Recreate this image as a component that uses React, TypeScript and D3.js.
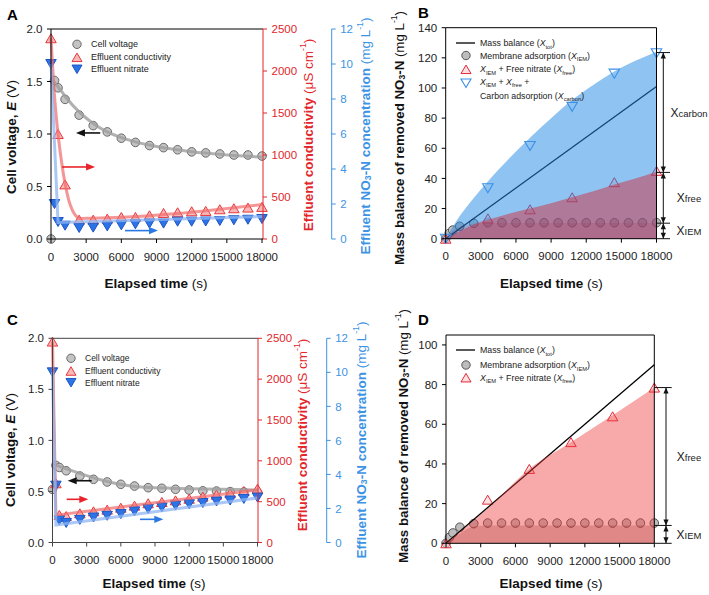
import React from 'react';
import * as d3 from 'd3';

const FONT = '"Liberation Sans", Arial, Helvetica, sans-serif';

// ---------- shared ticks ----------
const timeTicks = [0, 3000, 6000, 9000, 12000, 15000, 18000];
const voltageTicks = [0, 0.5, 1.0, 1.5, 2.0];
const conductivityTicks = [0, 500, 1000, 1500, 2000, 2500];
const nitrateTicks = [0, 2, 4, 6, 8, 10, 12];
const massTicksB = [0, 20, 40, 60, 80, 100, 120, 140];
const massTicksD = [0, 20, 40, 60, 80, 100];

// ---------- Panel A ----------
const timeA = [0, 300, 600, 1200, 2400, 3600, 4800, 6000, 7200, 8400, 9600, 10800, 12000, 13200, 14400, 15600, 16800, 18000];
const voltageA = [0, 1.51, 1.44, 1.33, 1.18, 1.08, 1.02, 0.96, 0.92, 0.89, 0.87, 0.85, 0.83, 0.82, 0.81, 0.80, 0.80, 0.79];
const condTimeA = [0, 600, 1200, 2400, 3600, 4800, 6000, 7200, 8400, 9600, 10800, 12000, 13200, 14400, 15600, 16800, 18000];
const conductivityA = [2390, 1250, 650, 230, 230, 242, 262, 262, 282, 310, 318, 330, 334, 354, 366, 374, 382];
const nitrateA = [10.0, 2.0, 0.97, 0.76, 0.63, 0.65, 0.72, 0.78, 0.84, 0.88, 0.88, 0.99, 0.99, 1.0, 1.03, 1.07, 1.1, 1.14];
const voltFitTimeA = [0, 600, 1200, 2400, 3600, 4800, 6000, 7200, 8400, 9600, 10800, 12000, 13200, 14400, 15600, 16800, 18000];
const voltFitA = [1.53, 1.45, 1.36, 1.21, 1.10, 1.02, 0.965, 0.925, 0.895, 0.87, 0.85, 0.832, 0.818, 0.806, 0.796, 0.787, 0.78];
const condFitTimeA = [0, 300, 600, 900, 1200, 1500, 1800, 2100, 2400, 18000];
const condFitA = [2390, 1700, 1250, 920, 660, 470, 350, 280, 245, 410];
const nitrFitTimeA = [0, 600, 18000];
const nitrFitA = [10.0, 0.95, 1.28];

// ---------- Panel C ----------
const timeC = [0, 300, 600, 1200, 2400, 3600, 4800, 6000, 7200, 8400, 9600, 10800, 12000, 13200, 14400, 15600, 16800, 18000];
const voltageC = [0.52, 0.755, 0.735, 0.703, 0.651, 0.619, 0.593, 0.570, 0.553, 0.537, 0.531, 0.521, 0.514, 0.506, 0.504, 0.498, 0.495, 0.492];
const conductivityC = [2460, 725, 337, 324, 357, 382, 402, 426, 451, 480, 496, 516, 536, 561, 585, 602, 630, 659];
const nitrateC = [10.0, 3.34, 1.3, 1.15, 1.33, 1.47, 1.57, 1.67, 1.83, 1.97, 2.06, 2.17, 2.25, 2.32, 2.41, 2.47, 2.56, 2.64];
const voltFitTimeC = [0, 8100, 18000];
const voltFitC = [0.77, 0.54, 0.515];
const condFitTimeC = [0, 300, 18000];
const condFitC = [2460, 335, 645];
const nitrFitTimeC = [0, 300, 18000];
const nitrFitC = [10.0, 1.03, 2.62];

// ---------- Panels B and D ----------
const iemTime = [0, 300, 600, 1200, 2400, 3600, 4800, 6000, 7200, 8400, 9600, 10800, 12000, 13200, 14400, 15600, 16800, 18000];
const sampleTime = [0, 3600, 7200, 10800, 14400, 18000];
const massTime = [0, 18000];

const iemB = [0, 3.5, 5.7, 8.2, 10.2, 10.6, 10.6, 10.6, 10.6, 10.6, 10.6, 10.6, 10.6, 10.6, 10.6, 10.6, 10.6, 10.6];
const freeB = [0, 13.5, 19.5, 27.5, 37.5, 45];
const carbonB = [0, 33.5, 61.5, 87.5, 109.5, 123];
const massB = [0, 101];
const fillTimeB = [0, 1200, 2400, 3600, 5400, 7200, 9000, 10800, 12600, 14400, 16200, 18000];
const carbonFillB = [0, 15, 27, 38, 53, 67, 80, 92, 102, 111, 118, 124];
const freeFillB = [0, 5, 9.5, 12.5, 16.5, 20, 23.5, 27.5, 31.5, 36, 40, 44.5];
const iemFillTimeB = [0, 300, 600, 1200, 2400, 3600, 18000];
const iemFillB = [0, 3, 5, 8, 10, 10.5, 10.5];
const bracketB = [123.5, 44, 10.3, 0];
const bracketLabelsB = ['carbon', 'free', 'IEM'];

const iemD = [0, 3.0, 5.2, 8.1, 9.9, 10.2, 10.2, 10.2, 10.2, 10.2, 10.2, 10.2, 10.2, 10.2, 10.2, 10.2, 10.2, 10.2];
const freeD = [0, 22, 37.5, 51, 64, 78.5];
const massD = [0, 90];
const fillTimeD = [0, 3600, 7200, 10800, 14400, 18000];
const freeFillD = [0, 17.5, 37.5, 51, 64.5, 78.5];
const iemFillTimeD = [0, 1200, 2400, 3600, 18000];
const iemFillD = [0, 5, 8.5, 9, 9];
const bracketD = [78.5, 9, 0];
const bracketLabelsD = ['free', 'IEM'];

// ---------- helpers ----------
type Pt = [number, number];
const zip = (xs: number[], ys: number[]): Pt[] => xs.map((x, i) => [x, ys[i]] as Pt);
const upTri = (w = 10.5, h = 9) => `M0,${-h / 2}L${w / 2},${h / 2}L${-w / 2},${h / 2}Z`;
const downTri = (w = 10.5, h = 9) => `M0,${h / 2}L${w / 2},${-h / 2}L${-w / 2},${-h / 2}Z`;

const RED = '#e2262b';
const BLUE_AX = '#3d93e4';

function Arrow({ x1, x2, y, color }: { x1: number; x2: number; y: number; color: string }) {
  const dir = Math.sign(x2 - x1);
  return (
    <g>
      <line x1={x1} x2={x2 - dir * 6} y1={y} y2={y} stroke={color} strokeWidth={1.6} />
      <path d={`M${x2},${y}L${x2 - dir * 9},${y - 3.6}L${x2 - dir * 9},${y + 3.6}Z`} fill={color} />
    </g>
  );
}

function Sub({ t, after }: { t: string; after?: string }) {
  return (
    <>
      <tspan fontSize="65%" dy={2.5}>{t}</tspan>
      <tspan dy={-2.5}>{after ?? ''}</tspan>
    </>
  );
}

function XTitle({ x, y }: { x: number; y: number }) {
  return (
    <text x={x} y={y} textAnchor="middle" fontSize={13.5} fontWeight="bold" fill="#111">
      Elapsed time<tspan fontWeight="normal"> (s)</tspan>
    </text>
  );
}

function BottomAxis({ x, yBot, xStart, xEnd, color }: any) {
  return (
    <g>
      <line x1={xStart} x2={xEnd} y1={yBot} y2={yBot} stroke={color} strokeWidth={1} />
      {timeTicks.map((t) => (
        <g key={t}>
          <line x1={x(t)} x2={x(t)} y1={yBot} y2={yBot + 4} stroke={color} />
          <text x={x(t)} y={yBot + 21.5} textAnchor="middle" fontSize={11.5} fill="#222">{t}</text>
        </g>
      ))}
    </g>
  );
}

function VAxis({ scale, ticks, xPos, side, color, fmt, textColor }: any) {
  const [r0, r1] = scale.range();
  const s = side === 'left' ? -1 : 1;
  return (
    <g>
      <line x1={xPos} x2={xPos} y1={r0} y2={r1} stroke={color} strokeWidth={1} />
      {ticks.map((t: number) => (
        <g key={t}>
          <line x1={xPos} x2={xPos + s * 4} y1={scale(t)} y2={scale(t)} stroke={color} />
          <text x={xPos + s * 8.5} y={scale(t)} dy="0.36em" textAnchor={side === 'left' ? 'end' : 'start'} fontSize={11.5} fill={textColor}>
            {fmt(t)}
          </text>
        </g>
      ))}
    </g>
  );
}

// ---------- time series panel (A, C) ----------
function PanelTS({ c }: { c: any }) {
  const x = d3.scaleLinear().domain([0, 18000]).range([c.x0, c.x1]);
  const yV = d3.scaleLinear().domain([0, 2]).range([c.yBot, c.yTop]);
  const yC = d3.scaleLinear().domain([0, 2500]).range([c.yBot, c.yTop]);
  const yN = d3.scaleLinear().domain([0, 12]).range([c.yBot, c.yTop]);
  const mk = (sy: any, curve: any) => d3.line<Pt>().x((d) => x(d[0])).y((d) => sy(d[1])).curve(curve);
  const f1 = d3.format('.1f');
  const L = c.legend;
  return (
    <g>
      {/* markers */}
      {zip(c.time, c.voltage).map((d, i) => (
        <circle key={'v' + i} cx={x(d[0])} cy={yV(d[1])} r={4.3} fill="#c3c3c3" stroke="#6a6a6a" strokeWidth={1} />
      ))}
      {zip(c.condTime, c.cond).map((d, i) => (
        <path key={'c' + i} d={upTri()} transform={`translate(${x(d[0])},${yC(d[1])})`} fill="#f8b8b8" stroke="#e8373c" strokeWidth={1} />
      ))}
      {zip(c.nitrTime, c.nitrate).map((d, i) => (
        <path key={'n' + i} d={downTri()} transform={`translate(${x(d[0])},${yN(d[1])})`} fill="#2c74e6" stroke="#1d55c4" strokeWidth={1} />
      ))}
      {/* fits */}
      <path d={mk(yV, d3.curveMonotoneX)(zip(c.voltFit[0], c.voltFit[1])) as string} fill="none" stroke="#9e9e9e" strokeWidth={3} strokeOpacity={0.8} />
      <path d={mk(yC, c.condCurve)(zip(c.condFit[0], c.condFit[1])) as string} fill="none" stroke="#f06a6a" strokeWidth={3} strokeOpacity={0.7} />
      <path d={mk(yN, d3.curveLinear)(zip(c.nitrFit[0], c.nitrFit[1])) as string} fill="none" stroke="#8db4f2" strokeWidth={3} strokeOpacity={0.75} />
      {/* arrows */}
      <Arrow x1={x(c.arrows.black[0])} x2={x(c.arrows.black[1])} y={yV(c.arrows.black[2])} color="#111" />
      <Arrow x1={x(c.arrows.red[0])} x2={x(c.arrows.red[1])} y={yV(c.arrows.red[2])} color="#e8232a" />
      <Arrow x1={x(c.arrows.blue[0])} x2={x(c.arrows.blue[1])} y={yV(c.arrows.blue[2])} color="#2a78e4" />
      {/* frame & axes */}
      <line x1={c.x0} x2={c.redX} y1={c.yTop} y2={c.yTop} stroke={c.frame} />
      <VAxis scale={yV} ticks={voltageTicks} xPos={c.x0} side="left" color={c.frame} fmt={f1} textColor="#222" />
      <VAxis scale={yC} ticks={conductivityTicks} xPos={c.redX} side="right" color={RED} fmt={(v: number) => String(v)} textColor={RED} />
      <VAxis scale={yN} ticks={nitrateTicks} xPos={c.blueX} side="right" color={BLUE_AX} fmt={(v: number) => String(v)} textColor={BLUE_AX} />
      <BottomAxis x={x} yBot={c.yBot} xStart={c.x0} xEnd={c.redX} color={c.frame} />
      {/* legend */}
      <circle cx={L.mx} cy={L.ys[0]} r={4.2} fill="#c3c3c3" stroke="#6a6a6a" />
      <path d={upTri(10, 8.5)} transform={`translate(${L.mx},${L.ys[1]})`} fill="#f8b8b8" stroke="#e8373c" />
      <path d={downTri(10, 8.5)} transform={`translate(${L.mx},${L.ys[2]})`} fill="#2c74e6" stroke="#1d55c4" />
      {['Cell voltage', 'Effluent conductivity', 'Effluent nitrate'].map((s, i) => (
        <text key={s} x={L.tx} y={L.ys[i]} dy="0.35em" fontSize={L.fs} fill="#222">{s}</text>
      ))}
      {/* titles */}
      <text x={c.labelPos[0]} y={c.labelPos[1]} fontSize={15} fontWeight="bold">{c.label}</text>
      <XTitle x={c.titles.bottom[0]} y={c.titles.bottom[1]} />
      <text transform={`translate(${c.titles.left[0]},${c.titles.left[1]}) rotate(-90)`} textAnchor="middle" dominantBaseline="central" fontSize={13.5} fontWeight="bold" fill="#111">
        {'Cell voltage, '}<tspan fontStyle="italic">E</tspan><tspan fontWeight="normal"> (V)</tspan>
      </text>
      <text transform={`translate(${c.titles.red[0]},${c.titles.red[1]}) rotate(-90)`} textAnchor="middle" dominantBaseline="central" fontSize={13.5} fontWeight="bold" fill={RED}>
        {'Effluent conductivity '}
        <tspan fontWeight="normal">{'(\u03bcS cm'}</tspan>
        <tspan fontWeight="normal" fontSize="65%" dy={-5}>-1</tspan>
        <tspan fontWeight="normal" dy={5}>)</tspan>
      </text>
      <text transform={`translate(${c.titles.blue[0]},${c.titles.blue[1]}) rotate(-90)`} textAnchor="middle" dominantBaseline="central" fontSize={13.5} fontWeight="bold" fill={BLUE_AX}>
        {'Effluent NO'}
        <Sub t="3" after="-N concentration" />
        <tspan fontWeight="normal">{' (mg L'}</tspan>
        <tspan fontWeight="normal" fontSize="65%" dy={-5}>-1</tspan>
        <tspan fontWeight="normal" dy={5}>)</tspan>
      </text>
    </g>
  );
}

// ---------- mass balance panel (B, D) ----------
function Bracket({ y, levels, labels, xFrame, xLine, xTickEnd, labelX }: any) {
  const ah = 6, aw = 2.6;
  return (
    <g>
      <line x1={xLine} x2={xLine} y1={y(levels[0])} y2={y(levels[levels.length - 1])} stroke="#111" strokeWidth={1} />
      {levels.map((lv: number, i: number) => (
        <line key={'t' + i} x1={xFrame} x2={xTickEnd} y1={y(lv)} y2={y(lv)} stroke="#111" strokeWidth={1} />
      ))}
      {labels.map((lab: string, i: number) => {
        const yt = y(levels[i]);
        const yb = y(levels[i + 1]);
        const ym = (yt + yb) / 2;
        return (
          <g key={lab}>
            <path d={`M${xLine},${yt}L${xLine - aw},${yt + ah}L${xLine + aw},${yt + ah}Z`} fill="#111" />
            <path d={`M${xLine},${yb}L${xLine - aw},${yb - ah}L${xLine + aw},${yb - ah}Z`} fill="#111" />
            <text x={labelX} y={ym} dy="0.35em" textAnchor="middle" fontSize={12} fill="#222">
              X<tspan fontSize={9.5}>{lab}</tspan>
            </text>
          </g>
        );
      })}
    </g>
  );
}

function PanelMB({ c }: { c: any }) {
  const x = d3.scaleLinear().domain([0, 18000]).range([c.x0, c.x1]);
  const y = d3.scaleLinear().domain([0, c.yMax]).range([c.yBot, c.yTop]);
  const area = d3.area<Pt>().x((d) => x(d[0])).y0(y(0)).y1((d) => y(d[1])).curve(d3.curveMonotoneX);
  const line = d3.line<Pt>().x((d) => x(d[0])).y((d) => y(d[1]));
  const L = c.legend;
  return (
    <g>
      {zip(iemTime, c.iem).map((d, i) => (
        <circle key={'i' + i} cx={x(d[0])} cy={y(d[1])} r={4.3} fill="#bdbdbd" stroke="#555" strokeWidth={1} />
      ))}
      {zip(sampleTime, c.free).map((d, i) => (
        <path key={'f' + i} d={upTri()} transform={`translate(${x(d[0])},${y(d[1])})`} fill="#fcd2d2" fillOpacity={0.6} stroke="#e3283a" strokeWidth={1} />
      ))}
      <path d={line(zip(massTime, c.mass)) as string} fill="none" stroke="#000" strokeWidth={1.3} />
      {c.carbonFill && (
        <path d={area(zip(c.carbonFill[0], c.carbonFill[1])) as string} fill="#1e88e5" fillOpacity={0.5} />
      )}
      <path d={area(zip(c.freeFill[0], c.freeFill[1])) as string} fill={c.freeColor} fillOpacity={c.freeOp} />
      <path d={area(zip(c.iemFill[0], c.iemFill[1])) as string} fill={c.iemColor} fillOpacity={c.iemOp} />
      {c.carbon && zip(sampleTime, c.carbon).map((d, i) => (
        <path key={'b' + i} d={downTri()} transform={`translate(${x(d[0])},${y(d[1])})`} fill="none" stroke="#3b8fe6" strokeWidth={1.1} />
      ))}
      {/* frame */}
      <line x1={c.x0} x2={c.x1} y1={c.yTop} y2={c.yTop} stroke="#000" />
      <line x1={c.x1} x2={c.x1} y1={c.yTop} y2={c.yBot} stroke="#000" />
      <VAxis scale={y} ticks={c.yTicks} xPos={c.x0} side="left" color="#000" fmt={(v: number) => String(v)} textColor="#222" />
      <BottomAxis x={x} yBot={c.yBot} xStart={c.x0} xEnd={c.x1} color="#000" />
      <Bracket y={y} levels={c.bracket} labels={c.bracketLabels} xFrame={c.x1} xLine={c.br.xLine} xTickEnd={c.br.xTickEnd} labelX={c.br.labelX} />
      {/* legend */}
      <line x1={L.lineX[0]} x2={L.lineX[1]} y1={L.ys[0]} y2={L.ys[0]} stroke="#000" strokeWidth={1.3} />
      <circle cx={L.mx} cy={L.ys[1]} r={4.2} fill="#bdbdbd" stroke="#555" />
      <path d={upTri(10, 8.5)} transform={`translate(${L.mx},${L.ys[2]})`} fill="#fde0e0" stroke="#e3283a" />
      <text x={L.tx} y={L.ys[0]} dy="0.35em" fontSize={L.fs} fill="#222">
        {'Mass balance ('}<tspan fontStyle="italic">X</tspan><Sub t="tot" after=")" />
      </text>
      <text x={L.tx} y={L.ys[1]} dy="0.35em" fontSize={L.fs} fill="#222">
        {'Membrane adsorption ('}<tspan fontStyle="italic">X</tspan><Sub t="IEM" after=")" />
      </text>
      <text x={L.tx} y={L.ys[2]} dy="0.35em" fontSize={L.fs} fill="#222">
        <tspan fontStyle="italic">X</tspan><Sub t="IEM" after=" + Free nitrate (" /><tspan fontStyle="italic">X</tspan><Sub t="free" after=")" />
      </text>
      {c.carbon && (
        <>
          <path d={downTri(10, 8.5)} transform={`translate(${L.mx},${L.ys[3] + 1.5})`} fill="none" stroke="#3b8fe6" strokeWidth={1.1} />
          <text x={L.tx} y={L.ys[3]} dy="0.35em" fontSize={L.fs} fill="#222">
            <tspan fontStyle="italic">X</tspan><Sub t="IEM" after=" + " /><tspan fontStyle="italic">X</tspan><Sub t="free" after=" +" />
          </text>
          <text x={L.tx} y={L.ys[4]} dy="0.35em" fontSize={L.fs} fill="#222">
            {'Carbon adsorption ('}<tspan fontStyle="italic">X</tspan><Sub t="carbon" after=")" />
          </text>
        </>
      )}
      {/* titles */}
      <text x={c.labelPos[0]} y={c.labelPos[1]} fontSize={15} fontWeight="bold">{c.label}</text>
      <XTitle x={c.titles.bottom[0]} y={c.titles.bottom[1]} />
      <text transform={`translate(${c.titles.left[0]},${c.titles.left[1]}) rotate(-90)`} textAnchor="middle" dominantBaseline="central" fontSize={13.3} fontWeight="bold" fill="#111">
        {'Mass balance of removed NO'}
        <Sub t="3" after="-N" />
        <tspan fontWeight="normal">{' (mg L'}</tspan>
        <tspan fontWeight="normal" fontSize="65%" dy={-5}>-1</tspan>
        <tspan fontWeight="normal" dy={5}>)</tspan>
      </text>
    </g>
  );
}

// ---------- configs (layout) ----------
const cfgA = {
  label: 'A', labelPos: [7, 19.5],
  x0: 51, x1: 262, redX: 263, blueX: 331.7, yTop: 29, yBot: 239, frame: '#000',
  time: timeA, voltage: voltageA, condTime: condTimeA, cond: conductivityA, nitrTime: timeA, nitrate: nitrateA,
  voltFit: [voltFitTimeA, voltFitA], condFit: [condFitTimeA, condFitA], nitrFit: [nitrFitTimeA, nitrFitA],
  condCurve: d3.curveMonotoneX,
  legend: { mx: 77, tx: 91, ys: [44.3, 57.3, 69.3], fs: 9 },
  arrows: { black: [4200, 2130, 1.01], red: [940, 3760, 0.686], blue: [6310, 9130, 0.08] },
  titles: { left: [11, 137], red: [308, 135], blue: [365, 136], bottom: [156, 288] },
};

const cfgC = {
  label: 'C', labelPos: [7, 325],
  x0: 52.5, x1: 257.5, redX: 258, blueX: 326.7, yTop: 338.3, yBot: 542.5, frame: '#444',
  time: timeC, voltage: voltageC, condTime: timeC, cond: conductivityC, nitrTime: timeC, nitrate: nitrateC,
  voltFit: [voltFitTimeC, voltFitC], condFit: [condFitTimeC, condFitC], nitrFit: [nitrFitTimeC, nitrFitC],
  condCurve: d3.curveLinear,
  legend: { mx: 71, tx: 85, ys: [358.3, 371, 382.7], fs: 8.5 },
  arrows: { black: [3442, 1335, 0.605], red: [1247, 3143, 0.423], blue: [7683, 9729, 0.227] },
  titles: { left: [10, 450], red: [302, 435], blue: [361, 440], bottom: [154, 588] },
};

const cfgB = {
  label: 'B', labelPos: [418, 17.5],
  x0: 445.7, x1: 656.5, yTop: 27.7, yBot: 238.7, yMax: 140, yTicks: massTicksB,
  iem: iemB, free: freeB, carbon: carbonB, mass: massB,
  carbonFill: [fillTimeB, carbonFillB], freeFill: [fillTimeB, freeFillB], iemFill: [iemFillTimeB, iemFillB],
  freeColor: '#d03040', freeOp: 0.5, iemColor: '#a02040', iemOp: 0.15,
  bracket: bracketB, bracketLabels: bracketLabelsB,
  br: { xLine: 663.3, xTickEnd: 670, labelX: 689 },
  legend: { lineX: [456, 475], mx: 466, tx: 480, ys: [43, 55.5, 69.3, 81.7, 95.5], fs: 8.8 },
  titles: { left: [399, 138], bottom: [551.3, 288] },
};

const cfgD = {
  label: 'D', labelPos: [418, 325],
  x0: 446, x1: 654.3, yTop: 335, yBot: 543.3, yMax: 105, yTicks: massTicksD,
  iem: iemD, free: freeD, carbon: null, mass: massD,
  carbonFill: null, freeFill: [fillTimeD, freeFillD], iemFill: [iemFillTimeD, iemFillD],
  freeColor: '#f03c3c', freeOp: 0.44, iemColor: '#a03030', iemOp: 0.28,
  bracket: bracketD, bracketLabels: bracketLabelsD,
  br: { xLine: 666, xTickEnd: 671.7, labelX: 689 },
  legend: { lineX: [456, 475], mx: 466, tx: 480, ys: [350, 365, 377.7], fs: 8.8 },
  titles: { left: [403, 436], bottom: [551, 588] },
};

export default function App() {
  return (
    <svg width={709} height={595} style={{ position: 'absolute', left: 0, top: 0, background: '#fff' }} fontFamily={FONT}>
      <rect x={0} y={0} width={709} height={595} fill="#fff" />
      <PanelTS c={cfgA} />
      <PanelTS c={cfgC} />
      <PanelMB c={cfgB} />
      <PanelMB c={cfgD} />
    </svg>
  );
}
